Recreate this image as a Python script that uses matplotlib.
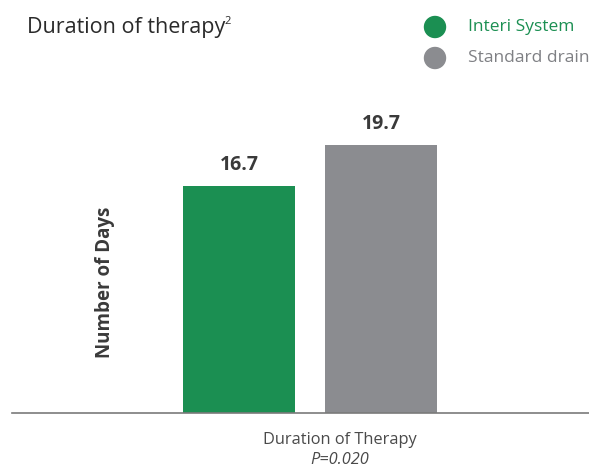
import matplotlib.pyplot as plt
from matplotlib.patches import Ellipse

plt.rcParams['font.family'] = ['Open Sans', 'DejaVu Sans']

groups = ['Interi System', 'Standard drain']
days = [16.7, 19.7]
colors = ['#1b8f52', '#8b8c90']
label_colors = ['#1b8f52', '#7f8084']

fig = plt.figure(figsize=(5.89, 4.68), dpi=100)
# axes spans the baseline from x=12px to the right edge
ax = fig.add_axes([12 / 589, 55 / 468, 577 / 589, 299.2 / 468])

xpos = range(len(days))
ax.bar(xpos, days, width=0.789, color=colors)
for x, v in zip(xpos, days):
    ax.text(x, v + 0.8, f'{v}', ha='center', va='bottom', fontsize=14,
            fontweight='bold', color='#3a3a3a')

ax.set_xlim(-1.599, 2.465)
ax.set_ylim(0, 22)
for s in ['top', 'right', 'left']:
    ax.spines[s].set_visible(False)
ax.spines['bottom'].set_color('#7a7a7a')
ax.spines['bottom'].set_linewidth(1.2)
ax.set_xticks([])
ax.set_yticks([])

fig.text(105 / 589, 1 - 282 / 468, 'Number of Days', rotation=90, ha='center',
         va='center', fontsize=13.5, fontweight='bold', color='#3a3a3a')
fig.text(340 / 589, 1 - 440 / 468, 'Duration of Therapy', ha='center',
         va='center', fontsize=11.8, color='#4a4a4a')
fig.text(340 / 589, 1 - 460 / 468, 'P=0.020', ha='center', va='center',
         fontsize=11.8, style='italic', color='#4a4a4a')

title = fig.text(27 / 589, 1 - 27 / 468, 'Duration of therapy', ha='left',
                 va='center', fontsize=15.5, color='#2a2a2a')
fig.canvas.draw()
bb = title.get_window_extent()
fig.text((bb.x1 - 1) / 589, 1 - 21 / 468, '2', ha='left', va='center',
         fontsize=8, color='#2a2a2a')

# legend markers
for i, (g, c, lc) in enumerate(zip(groups, colors, label_colors)):
    yc = 1 - (27 + 31 * i) / 468
    fig.patches.append(Ellipse((435 / 589, yc), 21 / 589, 21 / 468,
                               transform=fig.transFigure, color=c))
    fig.text(468 / 589, yc, g, ha='left', va='center', fontsize=12.5, color=lc)

fig.savefig('out.png', dpi=100)
